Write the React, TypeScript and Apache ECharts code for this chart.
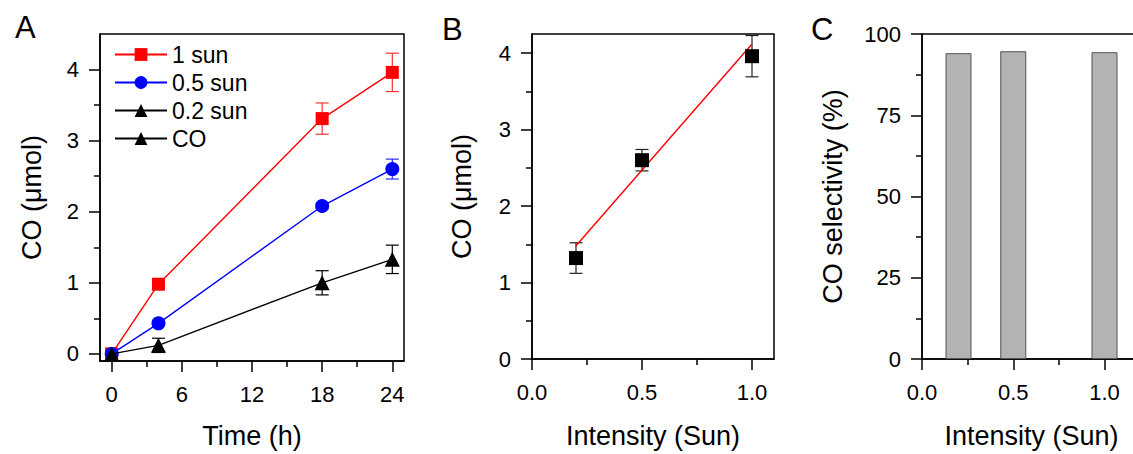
import React, { useEffect, useRef } from "react";
import * as echarts from "echarts";

// ---------- Data ----------
const timeH = [0, 4, 18, 24];
const sun1 = [0, 0.98, 3.31, 3.96];
const sun1Err = [0, 0.02, 0.22, 0.27];
const sun05 = [0, 0.43, 2.08, 2.6];
const sun05Err = [0, 0.03, 0.04, 0.14];
const sun02 = [0, 0.12, 1.0, 1.33];
const sun02Err = [0, 0.1, 0.17, 0.2];

const intensity = [0.2, 0.5, 1.0];
const coByIntensity = [1.32, 2.6, 3.96];
const coByIntensityErr = [0.2, 0.14, 0.27];
const fitX = [0.2, 1.0];
const fitY = [1.48, 4.12];

const selectivity = [94.1, 94.7, 94.4];

const legendNames = ["1 sun", "0.5 sun", "0.2 sun", "CO"];

const aXMajor = [0, 6, 12, 18, 24];
const aXMinor = [3, 9, 15, 21];
const aYMajor = [0, 1, 2, 3, 4];
const aYMinor = [0.5, 1.5, 2.5, 3.5];
const bXMajor = [0, 0.5, 1.0];
const bXMinor = [0.25, 0.75];
const bYMajor = [0, 1, 2, 3, 4];
const bYMinor = [0.5, 1.5, 2.5, 3.5];
const cXMajor = [0, 0.5, 1.0];
const cXMinor = [0.25, 0.75];
const cYMajor = [0, 25, 50, 75, 100];
const cYMinor = [12.5, 37.5, 62.5, 87.5];

// ---------- Styling ----------
const FONT = "'Liberation Sans', Arial, sans-serif";
const TICK_FS = 22;
const NAME_FS = 27;
const LW = 1.5;

const zip = (xs: number[], ys: number[], es?: number[]) =>
  xs.map((x, i) => (es ? [x, ys[i], es[i]] : [x, ys[i]]));

function majorAxis(
  dim: "x" | "y",
  gridIndex: number,
  min: number,
  max: number,
  ticks: number[],
  name: string,
  nameGap: number,
  fmt?: (v: number) => string
) {
  return {
    type: "value",
    gridIndex,
    min,
    max,
    position: dim === "x" ? "bottom" : "left",
    name,
    nameLocation: "middle",
    nameGap,
    nameTextStyle: { fontFamily: FONT, fontSize: NAME_FS, color: "#000" },
    axisLine: { show: true, onZero: false, lineStyle: { color: "#000", width: LW } },
    axisTick: {
      show: true,
      inside: false,
      length: 11,
      customValues: ticks,
      lineStyle: { color: "#000", width: LW },
    },
    axisLabel: {
      show: true,
      customValues: ticks,
      fontFamily: FONT,
      fontSize: TICK_FS,
      color: "#000",
      margin: dim === "x" ? 22 : 21,
      formatter: fmt ? (v: number) => fmt(v) : (v: number) => String(v),
    },
    splitLine: { show: false },
  };
}

function minorAxis(dim: "x" | "y", gridIndex: number, min: number, max: number, ticks: number[]) {
  return {
    type: "value",
    gridIndex,
    min,
    max,
    position: dim === "x" ? "bottom" : "left",
    axisLine: { show: false, onZero: false },
    axisTick: {
      show: true,
      inside: false,
      length: 6,
      customValues: ticks,
      lineStyle: { color: "#000", width: LW },
    },
    axisLabel: { show: false, customValues: ticks },
    splitLine: { show: false },
  };
}

const errRender = (color: string) => (params: any, api: any) => {
  const x = api.value(0);
  const y = api.value(1);
  const e = api.value(2);
  if (!e) return null;
  const top = api.coord([x, y + e]);
  const bot = api.coord([x, y - e]);
  const hw = 6.5;
  const style = { stroke: color, lineWidth: 1.2 };
  return {
    type: "group",
    children: [
      { type: "line", shape: { x1: top[0], y1: top[1], x2: bot[0], y2: bot[1] }, style },
      { type: "line", shape: { x1: top[0] - hw, y1: top[1], x2: top[0] + hw, y2: top[1] }, style },
      { type: "line", shape: { x1: bot[0] - hw, y1: bot[1], x2: bot[0] + hw, y2: bot[1] }, style },
    ],
  };
};

export default function App() {
  const ref = useRef<HTMLDivElement>(null);

  useEffect(() => {
    if (!ref.current) return;
    const chart = echarts.init(ref.current, undefined, { renderer: "svg" });

    const gridBase = { show: true, borderColor: "#000", borderWidth: LW, backgroundColor: "transparent" };

    const option: any = {
      animation: false,
      backgroundColor: "#fff",
      textStyle: { fontFamily: FONT },
      grid: [
        { ...gridBase, left: 100, top: 34, width: 304, height: 328 },
        { ...gridBase, left: 532, top: 34, width: 242, height: 328 },
        { ...gridBase, left: 922, top: 34, width: 219, height: 328 },
      ],
      xAxis: [
        majorAxis("x", 0, -1, 25, aXMajor, "Time (h)", 61),
        minorAxis("x", 0, -1, 25, aXMinor),
        majorAxis("x", 1, 0, 1.1, bXMajor, "Intensity (Sun)", 63, (v) => v.toFixed(1)),
        minorAxis("x", 1, 0, 1.1, bXMinor),
        majorAxis("x", 2, 0, 1.2, cXMajor, "Intensity (Sun)", 63, (v) => v.toFixed(1)),
        minorAxis("x", 2, 0, 1.2, cXMinor),
      ],
      yAxis: [
        majorAxis("y", 0, -0.1, 4.5, aYMajor, "CO (\u03bcmol)", 55),
        minorAxis("y", 0, -0.1, 4.5, aYMinor),
        majorAxis("y", 1, 0, 4.25, bYMajor, "CO (\u03bcmol)", 57),
        minorAxis("y", 1, 0, 4.25, bYMinor),
        majorAxis("y", 2, 0, 100, cYMajor, "CO selectivity (%)", 76),
        minorAxis("y", 2, 0, 100, cYMinor),
      ],
      legend: {
        data: legendNames,
        orient: "vertical",
        left: 109,
        top: 38,
        itemWidth: 52,
        itemHeight: 16,
        itemGap: 5,
        itemStyle: { borderWidth: 0 },
        textStyle: { fontFamily: FONT, fontSize: 23, color: "#000", padding: [0, 0, 0, 0] },
        itemTextGap: 7,
      },
      graphic: [
        { type: "text", left: 15, top: 12, style: { text: "A", fontFamily: FONT, fontSize: 31, fill: "#000" } },
        { type: "text", left: 442, top: 14, style: { text: "B", fontFamily: FONT, fontSize: 31, fill: "#000" } },
        { type: "text", left: 811, top: 14, style: { text: "C", fontFamily: FONT, fontSize: 31, fill: "#000" } },
      ],
      series: [
        // Panel A error bars
        {
          type: "custom",
          xAxisIndex: 0,
          yAxisIndex: 0,
          renderItem: errRender("#ff3030"),
          data: zip(timeH, sun1, sun1Err),
          encode: { x: 0, y: 1 },
          z: 1,
        },
        {
          type: "custom",
          xAxisIndex: 0,
          yAxisIndex: 0,
          renderItem: errRender("#2a2aff"),
          data: zip(timeH, sun05, sun05Err),
          encode: { x: 0, y: 1 },
          z: 1,
        },
        {
          type: "custom",
          xAxisIndex: 0,
          yAxisIndex: 0,
          renderItem: errRender("#000"),
          data: zip(timeH, sun02, sun02Err),
          encode: { x: 0, y: 1 },
          z: 1,
        },
        // Panel A lines
        {
          name: "1 sun",
          type: "line",
          xAxisIndex: 0,
          yAxisIndex: 0,
          data: zip(timeH, sun1),
          symbol: "rect",
          symbolSize: 13,
          color: "#ff0000",
          lineStyle: { width: 1.4, color: "#ff0000" },
          itemStyle: { color: "#ff0000" },
          z: 2,
        },
        {
          name: "0.5 sun",
          type: "line",
          xAxisIndex: 0,
          yAxisIndex: 0,
          data: zip(timeH, sun05),
          symbol: "circle",
          symbolSize: 14,
          color: "#0000ff",
          lineStyle: { width: 1.4, color: "#0000ff" },
          itemStyle: { color: "#0000ff" },
          z: 3,
        },
        {
          name: "0.2 sun",
          type: "line",
          xAxisIndex: 0,
          yAxisIndex: 0,
          data: zip(timeH, sun02),
          symbol: "triangle",
          symbolSize: 15,
          color: "#000",
          lineStyle: { width: 1.4, color: "#000" },
          itemStyle: { color: "#000" },
          z: 4,
        },
        {
          name: "CO",
          type: "line",
          xAxisIndex: 0,
          yAxisIndex: 0,
          data: [],
          symbol: "triangle",
          symbolSize: 15,
          color: "#000",
          lineStyle: { width: 1.4, color: "#000" },
          itemStyle: { color: "#000" },
        },
        // Panel B
        {
          type: "line",
          xAxisIndex: 2,
          yAxisIndex: 2,
          data: zip(fitX, fitY),
          symbol: "none",
          lineStyle: { width: 1.4, color: "#ff0000" },
          z: 2,
        },
        {
          type: "custom",
          xAxisIndex: 2,
          yAxisIndex: 2,
          renderItem: errRender("#222"),
          data: zip(intensity, coByIntensity, coByIntensityErr),
          encode: { x: 0, y: 1 },
          z: 1,
        },
        {
          type: "scatter",
          xAxisIndex: 2,
          yAxisIndex: 2,
          data: zip(intensity, coByIntensity),
          symbol: "rect",
          symbolSize: 14,
          itemStyle: { color: "#000", opacity: 1 },
          z: 3,
        },
        // Panel C
        {
          type: "bar",
          xAxisIndex: 4,
          yAxisIndex: 4,
          data: zip(intensity, selectivity),
          barWidth: 26,
          itemStyle: { color: "#b3b3b3", borderColor: "#555", borderWidth: 1 },
        },
      ],
    };

    chart.setOption(option);
    return () => chart.dispose();
  }, []);

  return (
    <div
      style={{
        position: "fixed",
        left: 0,
        top: 0,
        width: 1133,
        height: 454,
        overflow: "hidden",
        background: "#fff",
      }}
    >
      <div ref={ref} style={{ width: 1160, height: 454 }} />
    </div>
  );
}
